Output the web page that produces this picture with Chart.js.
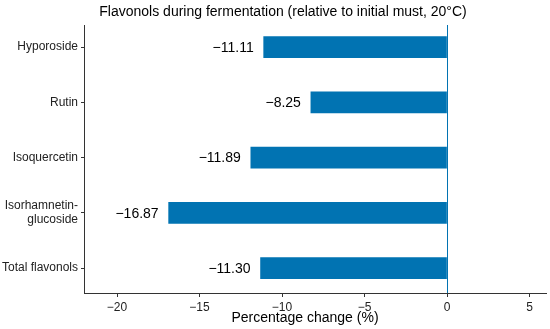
<!DOCTYPE html>
<html lang="en">
<head>
<meta charset="UTF-8">
<title>Flavonols</title>
<script src="https://cdn.jsdelivr.net/npm/chart.js"></script>
<style>
    html, body { margin: 0; padding: 0; background: #fff; }
    #wrap { width: 550px; height: 329px; }
</style>
</head>
<body>
<div id="wrap"><canvas id="grafico"></canvas></div>
<script>
    // dados
    var compostos = ['Hyporoside', 'Rutin', 'Isoquercetin', ['Isorhamnetin-', 'glucoside'], 'Total flavonols'];
    var variacao = [-11.11, -8.25, -11.89, -16.87, -11.30];
    var ticksX = [-20, -15, -10, -5, 0, 5];
    var titulo = 'Flavonols during fermentation (relative to initial must, 20\u00b0C)';
    var tituloX = 'Percentage change (%)';

    var azul = '#0173b2';
    var fonte = "'Liberation Sans', Arial, sans-serif";

    function menos(v) {
        return String(v).replace('-', '\u2212');
    }

    // linha do zero, rótulos dos valores e títulos (posição igual à figura original)
    var rotulos = {
        id: 'rotulos',
        afterDatasetsDraw: function (chart) {
            var ctx = chart.ctx;
            var area = chart.chartArea;
            var x0 = Math.round(chart.scales.x.getPixelForValue(0)) + 0.5;
            ctx.save();
            ctx.strokeStyle = azul;
            ctx.lineWidth = 1;
            ctx.beginPath();
            ctx.moveTo(x0, area.top);
            ctx.lineTo(x0, area.bottom);
            ctx.stroke();

            var meta = chart.getDatasetMeta(0);
            ctx.font = '14px ' + fonte;
            ctx.fillStyle = '#000';
            ctx.textAlign = 'right';
            ctx.textBaseline = 'middle';
            meta.data.forEach(function (barra, i) {
                ctx.fillText(menos(variacao[i].toFixed(2)), barra.x - 10, barra.y + 1);
            });

            ctx.textAlign = 'center';
            ctx.fillText(titulo, 283, 12);
            ctx.fillText(tituloX, 305, 318);
            ctx.restore();
        }
    };

    new Chart(document.getElementById('grafico').getContext('2d'), {
        type: 'bar',
        data: {
            datasets: [{
                data: variacao.map(function (v, i) { return { x: v, y: i }; }),
                backgroundColor: azul,
                borderWidth: 0,
                barThickness: 21
            }]
        },
        plugins: [rotulos],
        options: {
            indexAxis: 'y',
            responsive: true,
            maintainAspectRatio: false,
            animation: false,
            layout: { padding: { right: 4, top: 25, bottom: 0, left: 0 } },
            plugins: {
                legend: { display: false },
                tooltip: { enabled: false },
                title: { display: false }
            },
            scales: {
                x: {
                    min: -22,
                    max: 6,
                    afterBuildTicks: function (axis) {
                        axis.ticks = ticksX.map(function (v) { return { value: v }; });
                    },
                    afterFit: function (axis) { axis.height = 36; },
                    ticks: {
                        color: '#222',
                        font: { family: fonte, size: 12 },
                        padding: 3,
                        callback: function (v) { return menos(v); }
                    },
                    grid: {
                        drawOnChartArea: false,
                        tickColor: '#333',
                        tickLength: 4
                    },
                    border: { color: '#333', width: 1 }
                },
                y: {
                    type: 'linear',
                    reverse: true,
                    offset: false,
                    min: -0.4,
                    max: 4.45,
                    afterBuildTicks: function (axis) {
                        axis.ticks = compostos.map(function (c, i) { return { value: i }; });
                    },
                    afterFit: function (axis) { axis.width = 84; },
                    ticks: {
                        color: '#222',
                        font: { family: fonte, size: 12 },
                        padding: 3,
                        callback: function (v) { return compostos[v]; }
                    },
                    grid: {
                        offset: false,
                        drawOnChartArea: false,
                        tickColor: '#333',
                        tickLength: 3
                    },
                    border: { color: '#333', width: 1 }
                }
            }
        }
    });
</script>
</body>
</html>
